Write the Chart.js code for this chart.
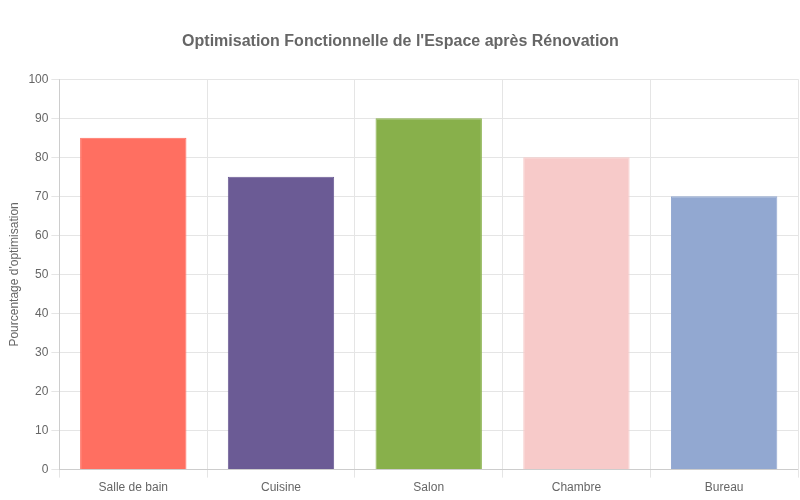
<!DOCTYPE html>
<html>
<head>
<meta charset="utf-8">
<script src="https://cdn.jsdelivr.net/npm/chart.js@4"></script>
<style>
  html, body { margin: 0; padding: 0; background: #fff; }
  #wrap { width: 800px; height: 500px; }
</style>
</head>
<body>
<div id="wrap"><canvas id="myChart"></canvas></div>
<script>
// data
const rooms = ['Salle de bain', 'Cuisine', 'Salon', 'Chambre', 'Bureau'];
const optimisation = [85, 75, 90, 80, 70];
const barColors = ['#FF6F61', '#6B5B95', '#88B04B', '#F7CAC9', '#92A8D1'];

Chart.defaults.font.family = '"Liberation Sans", Arial, sans-serif';
Chart.defaults.color = '#666';

function createGraph()
{
    const ctx = document.getElementById('myChart');

    new Chart(ctx, {
        type: 'bar',
        data: {
            labels: rooms,
            datasets: [{
                label: 'Optimisation',
                data: optimisation,
                backgroundColor: barColors,
                borderColor: barColors,
                borderWidth: 1
            }]
        },
        options: {
            responsive: true,
            maintainAspectRatio: false,
            animation: false,
            layout: { padding: { top: 22, right: 2, bottom: 2, left: 3 } },
            plugins: {
                legend: { display: false },
                title: {
                    display: true,
                    text: "Optimisation Fonctionnelle de l'Espace après Rénovation",
                    font: { size: 16, weight: 'bold' },
                    padding: { top: 10, bottom: 28 }
                }
            },
            scales: {
                x: {
                    grid: { color: '#e5e5e5' }
                },
                y: {
                    beginAtZero: true,
                    min: 0,
                    max: 100,
                    ticks: { stepSize: 10 },
                    grid: { color: '#e5e5e5' },
                    title: {
                        display: true,
                        text: "Pourcentage d'optimisation"
                    }
                }
            }
        }
    });
}

createGraph();
</script>
</body>
</html>
